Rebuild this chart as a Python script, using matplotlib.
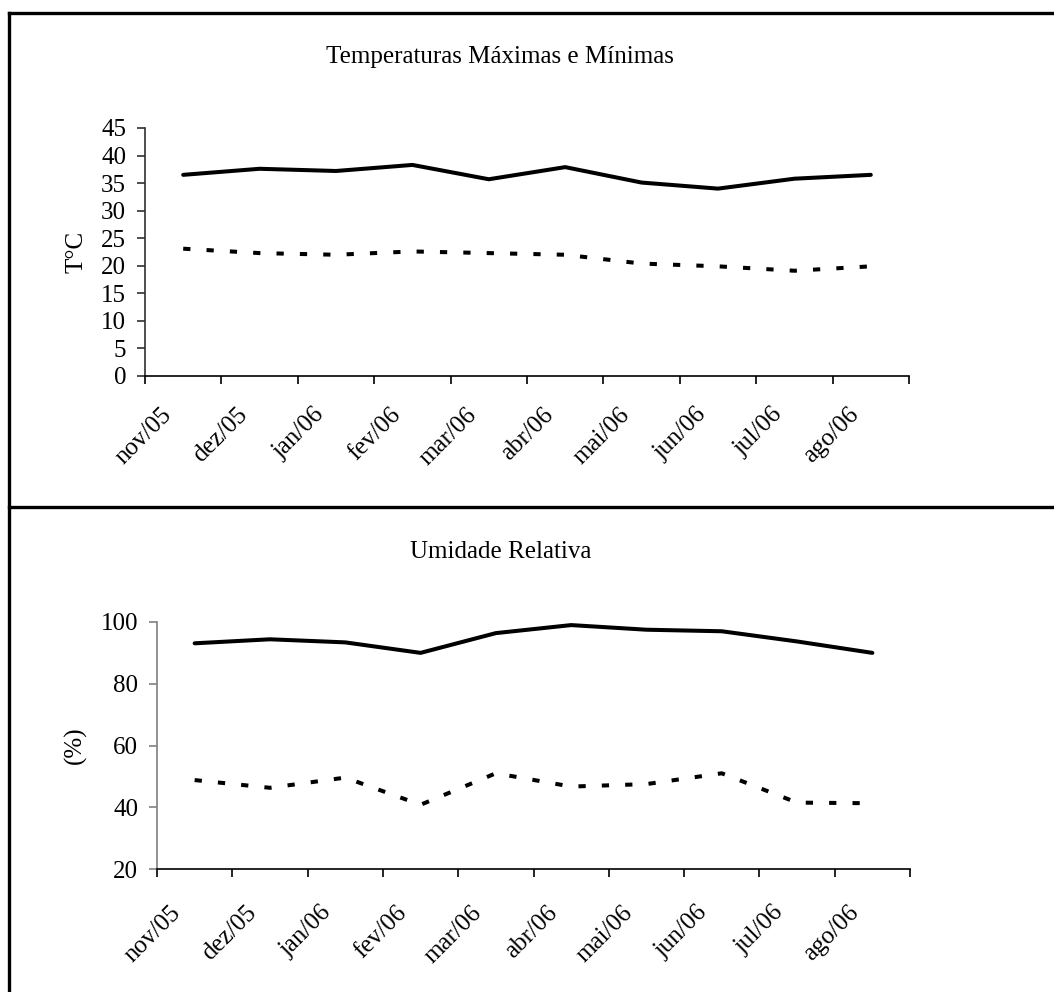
import matplotlib
matplotlib.use("Agg")
import matplotlib.pyplot as plt
from matplotlib.lines import Line2D
from matplotlib.transforms import ScaledTranslation

plt.rcParams['font.family'] = ['Liberation Serif', 'DejaVu Serif']

# dados mensais
meses = ['nov/05', 'dez/05', 'jan/06', 'fev/06', 'mar/06',
         'abr/06', 'mai/06', 'jun/06', 'jul/06', 'ago/06']
t_max = [36.5, 37.6, 37.2, 38.3, 35.7, 37.9, 35.1, 34.0, 35.8, 36.5]
t_min = [23.1, 22.3, 22.0, 22.6, 22.3, 22.0, 20.4, 19.9, 19.1, 19.9]
ur_max = [93.1, 94.4, 93.4, 90.0, 96.4, 99.0, 97.5, 97.0, 93.7, 90.0]
ur_min = [48.8, 46.3, 49.6, 40.8, 51.0, 46.7, 47.5, 51.0, 41.5, 41.3]

W, H = 1054, 992
fig = plt.figure(figsize=(W / 100, H / 100), dpi=100)

# moldura
lw_borda = 2.4
fig.add_artist(Line2D([9 / W, 1], [1 - 13 / H, 1 - 13 / H], color='black', lw=lw_borda))
fig.add_artist(Line2D([9 / W, 9 / W], [0, 1 - 13 / H], color='black', lw=lw_borda))
fig.add_artist(Line2D([9 / W, 1], [1 - 507 / H, 1 - 507 / H], color='black', lw=lw_borda))

tracejado = (0, (1.8, 4))


def painel(rect, maxs, mins, ylim, yticks, ylab, ycor, desloc):
    ax = fig.add_axes(rect)
    x = list(range(len(meses)))
    ax.plot(x, maxs, color='black', lw=2.9, solid_capstyle='round')
    ax.plot(x, mins, color='black', lw=2.9, linestyle=tracejado)
    ax.set_xlim(-0.5, len(meses) - 0.5)
    ax.set_ylim(*ylim)
    ax.set_yticks(yticks)
    ax.set_xticks([i - 0.5 for i in range(len(meses) + 1)])
    ax.set_xticklabels([])
    ax.set_xticks(x, minor=True)
    ax.set_xticklabels(meses, minor=True, rotation=45, ha='right',
                       rotation_mode='anchor', fontsize=18)
    ax.tick_params(axis='x', which='minor', length=0, pad=14)
    ax.tick_params(axis='x', which='major', length=6, width=1.2, direction='out')
    ax.tick_params(axis='y', length=6, width=1.2, labelsize=18, color=ycor, pad=7.5)
    # rótulos inclinados deslocados como no original
    off = ScaledTranslation(desloc[0] / 100, desloc[1] / 100, fig.dpi_scale_trans)
    for lab in ax.get_xticklabels(minor=True):
        lab.set_transform(lab.get_transform() + off)
    for s in ['top', 'right']:
        ax.spines[s].set_visible(False)
    ax.spines['left'].set_color(ycor)
    ax.spines['left'].set_linewidth(1.2)
    ax.spines['bottom'].set_linewidth(1.2)
    ax.set_ylabel(ylab, fontsize=18, labelpad=10)
    return ax


ax1 = painel([145 / W, 1 - 376 / H, 764 / W, 248 / H], t_max, t_min,
             (0, 45), range(0, 46, 5), 'T°C', '#303030', (-23, -8))
ax2 = painel([157 / W, 1 - 869 / H, 753 / W, 247 / H], ur_max, ur_min,
             (20, 100), range(20, 101, 20), '(%)', '#808080', (-25, -13))

fig.text(500 / W, 1 - 57 / H, 'Temperaturas Máximas e Mínimas',
         ha='center', va='center', fontsize=18)
fig.text(501 / W, 1 - 552 / H, 'Umidade Relativa',
         ha='center', va='center', fontsize=18)

fig.savefig('out.png', dpi=100)
